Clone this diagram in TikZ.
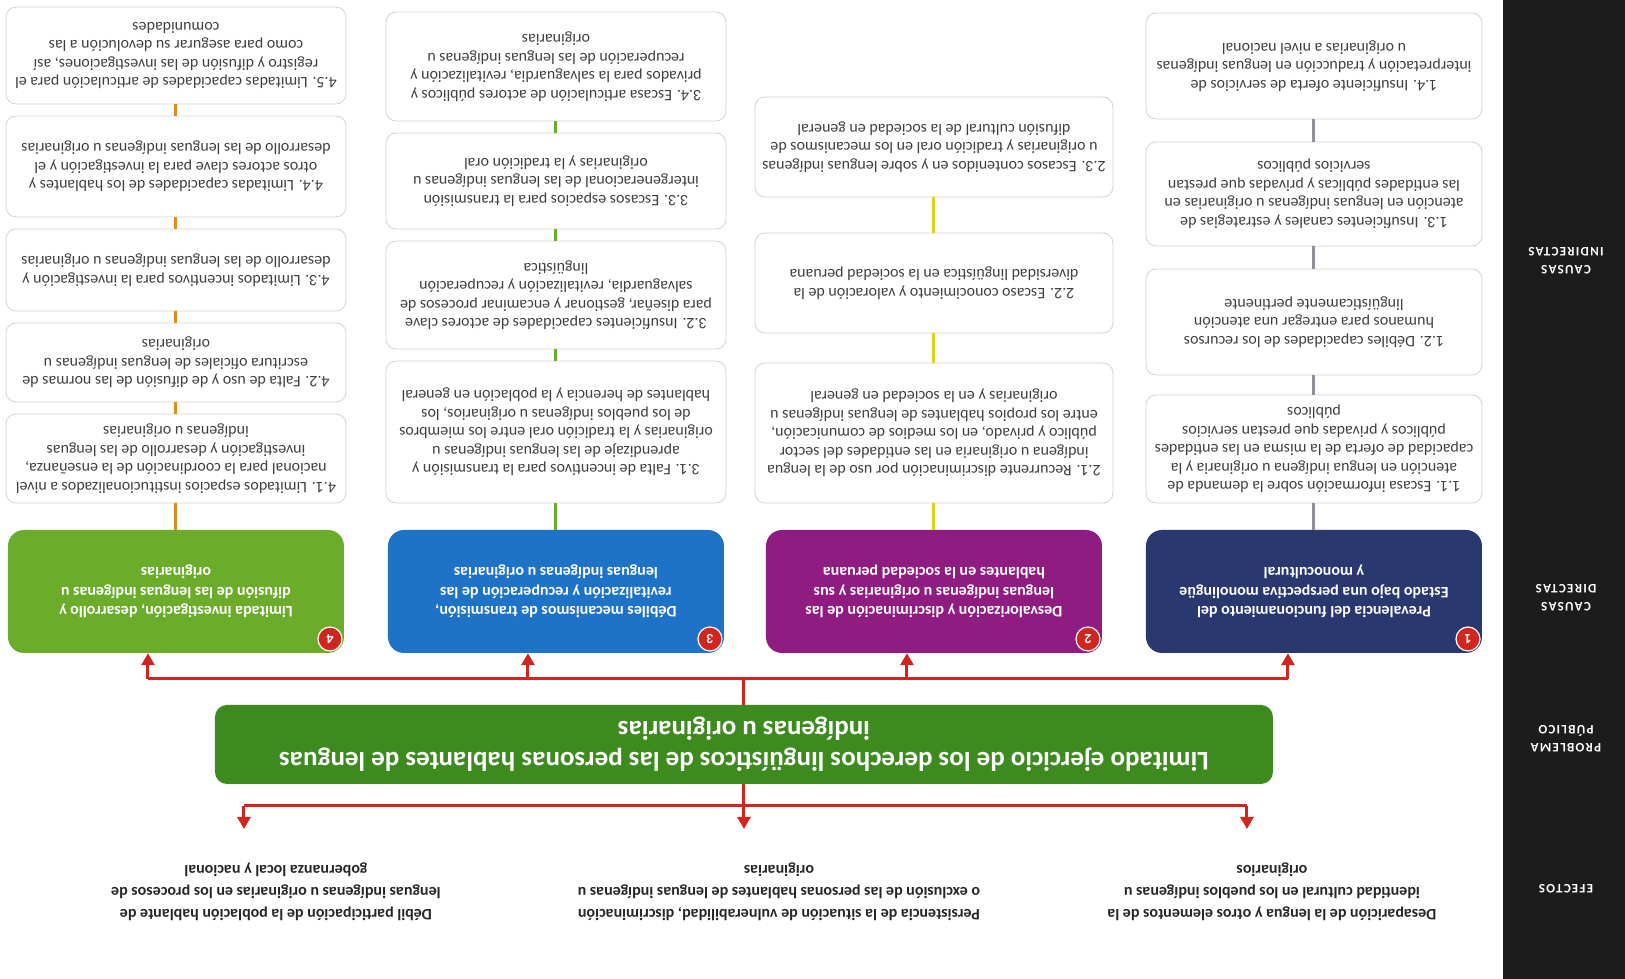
\documentclass[tikz,border=0pt]{standalone}
\usepackage{fontspec}
\setmainfont{Carlito}
\usepackage{tikz}
\usetikzlibrary{arrows.meta}
\definecolor{mnavy}{rgb}{0.16, 0.22, 0.43}
\definecolor{mpurple}{rgb}{0.56, 0.11, 0.5}
\definecolor{mblue}{rgb}{0.12, 0.45, 0.78}
\definecolor{mlgreen}{rgb}{0.42, 0.68, 0.17}
\definecolor{mdgreen}{rgb}{0.24, 0.54, 0.12}
\definecolor{mred}{rgb}{0.82, 0.15, 0.12}
\definecolor{mside}{rgb}{0.11, 0.11, 0.11}
\definecolor{mgrey}{rgb}{0.55, 0.57, 0.6}
\definecolor{myellow}{rgb}{0.9, 0.82, 0.1}
\definecolor{morange}{rgb}{0.88, 0.54, 0.11}
\definecolor{mtext}{rgb}{0.25, 0.25, 0.25}
\tikzset{redline/.style = {draw = mred, line width = 3}}
\tikzset{redarrow/.style = {redline, -{Triangle[length = 12pt, width = 13pt]}}}
\tikzset{link/.style = {line width = 3}}
\tikzset{sidelabel/.style = {text = white, align = center,
                             font = {\bfseries\fontsize{13}{18}\selectfont\addfontfeatures{LetterSpace = 10}}}}
\tikzset{effect/.style = {anchor = south, align = center, inner sep = 0, outer ysep = 34,
                          text = black!85, font = \bfseries\fontsize{16}{22}\selectfont}}
\tikzset{problem/.style = {fill = mdgreen, rounded corners = 12, align = center, text = white,
                           minimum width = 1058, minimum height = 79,
                           font = \bfseries\fontsize{27}{31}\selectfont}}
\tikzset{direct/.style = {rounded corners = 16, minimum width = 336, minimum height = 123,
                          align = center, text = white, font = \bfseries\fontsize{16}{19.5}\selectfont}}
\tikzset{badge/.style = {circle, fill = mred, draw = white, line width = 1.2, inner sep = 0,
                         minimum size = 24, text = white, font = \bfseries\fontsize{14}{14}\selectfont}}
\tikzset{indirect/.style = {draw = gray!35, line width = 0.8, fill = white, rounded corners = 10,
                            align = center, inner sep = 0, text = mtext,
                            font = \fontsize{16}{18.5}\selectfont}}

\begin{document}
\begin{tikzpicture}[x = 1pt, y = 1pt, rotate = 180, transform shape]
    \useasboundingbox (0, 0) rectangle (1625, -979);
    \fill [white] (0, 0) rectangle (1625, -979);

    % side band
    \fill [mside] (0, 0) rectangle (122, -979);
    \node [sidelabel] (lef) at (59, -90) {EFECTOS};
    \node [sidelabel] (lpr) at (59, -240) {PROBLEMA\\PÚBLICO};
    \node [sidelabel] (ldi) at (59, -381) {CAUSAS\\DIRECTAS};
    \node [sidelabel] (lin) at (59, -718) {CAUSAS\\INDIRECTAS};

    % effects
    \node [effect] (e1) at (353, -150) {Desaparición de la lengua y otros elementos de la\\identidad cultural en los pueblos indígenas u\\originarios};
    \node [effect] (e2) at (846, -150) {Persistencia de la situación de vulnerabilidad, discriminación\\o exclusión de las personas hablantes de lenguas indígenas u\\originarias};
    \node [effect] (e3) at (1349, -150) {Débil participación de la población hablante de\\lenguas indígenas u originarias en los procesos de\\gobernanza local y nacional};

    % problem
    \node [problem] (prob) at (881, -234.5) {Limitado ejercicio de los derechos lingüísticos de las personas hablantes de lenguas\\indígenas u originarias};

    \coordinate (ta) at (378, -173);
    \coordinate (tb) at (1381, -173);
    \draw [redline] (ta) -- (tb);
    \draw [redarrow] (prob.north) -- (prob.north |- e2.south);
    \draw [redarrow] (ta) -- (ta |- e1.south);
    \draw [redarrow] (tb) -- (tb |- e3.south);

    % direct causes
    \node [direct, fill = mnavy] (d1) at (311, -387.5) {Prevalencia del funcionamiento del\\Estado bajo una perspectiva monolingüe\\y monocultural};
    \node [direct, fill = mpurple] (d2) at (691, -387.5) {Desvalorización y discriminación de las\\lenguas indígenas u originarias y sus\\hablantes en la sociedad peruana};
    \node [direct, fill = mblue] (d3) at (1069, -387.5) {Débiles mecanismos de transmisión,\\revitalización y recuperación de las\\lenguas indígenas u originarias};
    \node [direct, fill = mlgreen] (d4) at (1449, -387.5) {Limitada investigación, desarrollo y\\difusión de las lenguas indígenas u\\originarias};
    \node [badge] (b1) at (157, -340) {1};
    \node [badge] (b2) at (537, -340) {2};
    \node [badge] (b3) at (915, -340) {3};
    \node [badge] (b4) at (1295, -340) {4};

    \coordinate (ba) at (337, -300);
    \coordinate (bb) at (1477, -300);
    \draw [redline] (ba) -- (bb);
    \draw [redline] (prob.south) -- (prob.south |- ba);
    \foreach \d/\u in {d1/337, d2/718, d3/1097, d4/1477}
        \draw [redarrow] (\u, -300) -- (\u, -300 |- \d.north);

    % indirect causes
    \node [indirect, minimum width = 336, minimum height = 108] (c11) at (311, -530) {1.1. Escasa información sobre la demanda de\\atención en lengua indígena u originaria y la\\capacidad de oferta de la misma en las entidades\\públicos y privadas que prestan servicios\\públicos};
    \node [indirect, minimum width = 336, minimum height = 106] (c12) at (311, -657) {1.2. Débiles capacidades de los recursos\\humanos para entregar una atención\\lingüísticamente pertinente};
    \node [indirect, minimum width = 336, minimum height = 104] (c13) at (311, -785) {1.3. Insuficientes canales y estrategias de\\atención en lenguas indígenas u originarias en\\las entidades públicas y privadas que prestan\\servicios públicos};
    \node [indirect, minimum width = 336, minimum height = 106] (c14) at (311, -913) {1.4. Insuficiente oferta de servicios de\\interpretación y traducción en lenguas indígenas\\u originarias a nivel nacional};

    \node [indirect, minimum width = 358, minimum height = 140] (c21) at (691, -546) {2.1. Recurrente discriminación por uso de la lengua\\indígena u originaria en las entidades del sector\\público y privado, en los medios de comunicación,\\entre los propios hablantes de lenguas indígenas u\\originarias y en la sociedad en general};
    \node [indirect, minimum width = 358, minimum height = 100] (c22) at (691, -696) {2.2. Escaso conocimiento y valoración de la\\diversidad lingüística en la sociedad peruana};
    \node [indirect, minimum width = 358, minimum height = 100] (c23) at (691, -832) {2.3. Escasos contenidos en y sobre lenguas indígenas\\u originarias y tradición oral en los mecanismos de\\difusión cultural de la sociedad en general};

    \node [indirect, minimum width = 340, minimum height = 142] (c31) at (1069, -547) {3.1. Falta de incentivos para la transmisión y\\aprendizaje de las lenguas indígenas u\\originarias y la tradición oral entre los miembros\\de los pueblos indígenas u originarios, los\\hablantes de herencia y la población en general};
    \node [indirect, minimum width = 340, minimum height = 108] (c32) at (1069, -684) {3.2. Insuficientes capacidades de actores clave\\para diseñar, gestionar y encaminar procesos de\\salvaguardia, revitalización y recuperación\\lingüística};
    \node [indirect, minimum width = 340, minimum height = 96] (c33) at (1069, -798) {3.3. Escasos espacios para la transmisión\\intergeneracional de las lenguas indígenas u\\originarias y la tradición oral};
    \node [indirect, minimum width = 340, minimum height = 109] (c34) at (1069, -912.5) {3.4. Escasa articulación de actores públicos y\\privados para la salvaguardia, revitalización y\\recuperación de las lenguas indígenas u\\originarias};

    \node [indirect, minimum width = 340, minimum height = 89] (c41) at (1449, -520.5) {4.1. Limitados espacios institucionalizados a nivel\\nacional para la coordinación de la enseñanza,\\investigación y desarrollo de las lenguas\\indígenas u originarias};
    \node [indirect, minimum width = 340, minimum height = 79] (c42) at (1449, -616.5) {4.2. Falta de uso y de difusión de las normas de\\escritura oficiales de lenguas indígenas u\\originarias};
    \node [indirect, minimum width = 340, minimum height = 82] (c43) at (1449, -709) {4.3. Limitados incentivos para la investigación y\\desarrollo de las lenguas indígenas u originarias};
    \node [indirect, minimum width = 340, minimum height = 101] (c44) at (1449, -812.5) {4.4. Limitadas capacidades de los hablantes y\\otros actores clave para la investigación y el\\desarrollo de las lenguas indígenas u originarias};
    \node [indirect, minimum width = 340, minimum height = 97] (c45) at (1449, -923.5) {4.5. Limitadas capacidades de articulación para el\\registro y difusión de las investigaciones, así\\como para asegurar su devolución a las\\comunidades};

    \draw [link, mgrey] (d1) -- (c11) -- (c12) -- (c13) -- (c14);
    \draw [link, myellow] (d2) -- (c21) -- (c22) -- (c23);
    \draw [link, mlgreen] (d3) -- (c31) -- (c32) -- (c33) -- (c34);
    \draw [link, morange] (d4) -- (c41) -- (c42) -- (c43) -- (c44) -- (c45);
\end{tikzpicture}
\end{document}
